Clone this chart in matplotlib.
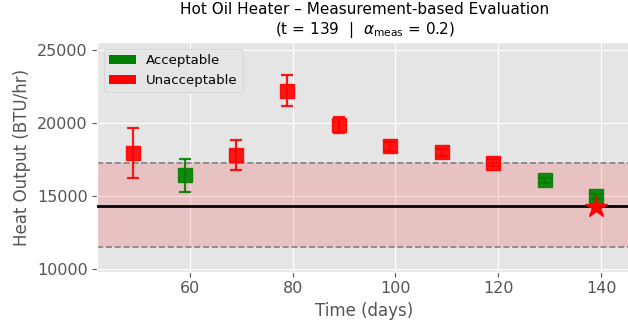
import numpy as np
import matplotlib
matplotlib.use("Agg")
import matplotlib.pyplot as plt
from matplotlib.patches import Patch

plt.style.use("ggplot")

# --- data ---
days = [49, 59, 69, 79, 89, 99, 109, 119, 129, 139]
heat = [17925, 16390, 17790, 22210, 19860, 18380, 17970, 17260, 16050, 14950]
heat_err = [1700, 1160, 1000, 1040, 550, 300, 250, 250, 200, 200]
acceptable = [False, True, False, False, False, False, False, False, True, True]

t_now = 139
alpha_meas = 0.2
current_value = 14200
reference = 14330
band_low = 11490
band_high = 17240

fig = plt.figure(figsize=(6.28, 3.28), dpi=100)
ax = fig.add_axes([0.1549, 0.1717, 0.8513, 0.6988])

ax.axhspan(band_low, band_high, color="red", alpha=0.15, lw=0, zorder=1)
ax.axhline(band_low, color="gray", ls="--", lw=1.2, zorder=2)
ax.axhline(band_high, color="gray", ls="--", lw=1.2, zorder=2)
ax.axhline(reference, color="black", lw=2, zorder=3)

for d, h, e, ok in zip(days, heat, heat_err, acceptable):
    c = "green" if ok else "red"
    ax.errorbar(d, h, yerr=e, fmt="s", color=c, ms=9.5, capsize=4,
                elinewidth=1.6, capthick=1.6, alpha=0.9, zorder=4)

ax.plot(t_now, current_value, marker="*", color="red", ms=16, ls="none", zorder=5)

ax.set_xlim(42, 146)
ax.set_ylim(9800, 25500)
ax.set_xticks([60, 80, 100, 120, 140])
ax.set_yticks([10000, 15000, 20000, 25000])
ax.tick_params(labelsize=11.5)

ax.set_xlabel("Time (days)", fontsize=12)
ax.set_ylabel("Heat Output (BTU/hr)", fontsize=12)
ax.set_title("Hot Oil Heater \u2013 Measurement-based Evaluation\n"
             "(t = %d  |  $\\alpha_{\\mathrm{meas}}$ = %.1f)" % (t_now, alpha_meas),
             fontsize=11, color="black")

handles = [Patch(facecolor="green", label="Acceptable"),
           Patch(facecolor="red", label="Unacceptable")]
ax.legend(handles=handles, loc="upper left", fontsize=9.5)

fig.savefig("out.png", dpi=100)
